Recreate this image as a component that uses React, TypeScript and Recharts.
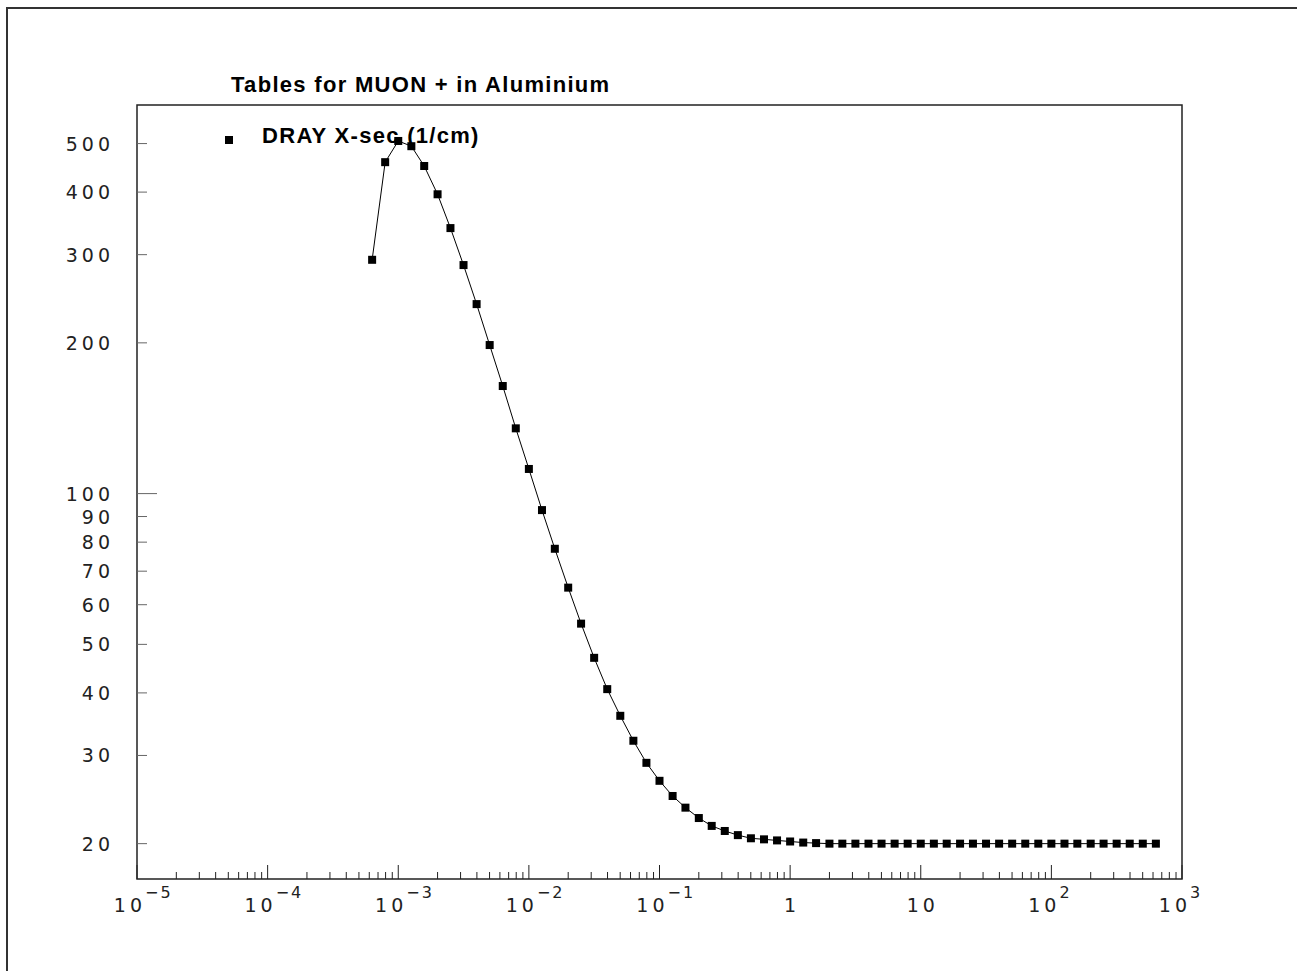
import { LineChart, Line, XAxis, YAxis, ReferenceArea } from 'recharts';

// kinetic energy (GeV), tabulated every 0.1 decade
const energies = [
  6.31e-4, 7.94e-4, 1.0e-3, 1.26e-3, 1.58e-3, 2.0e-3, 2.51e-3, 3.16e-3, 3.98e-3, 5.01e-3,
  6.31e-3, 7.94e-3, 1.0e-2, 1.26e-2, 1.58e-2, 2.0e-2, 2.51e-2, 3.16e-2, 3.98e-2, 5.01e-2,
  6.31e-2, 7.94e-2, 0.1, 0.126, 0.158, 0.2, 0.251, 0.316, 0.398, 0.501,
  0.631, 0.794, 1.0, 1.26, 1.58, 2.0, 2.51, 3.16, 3.98, 5.01,
  6.31, 7.94, 10, 12.6, 15.8, 20, 25.1, 31.6, 39.8, 50.1,
  63.1, 79.4, 100, 126, 158, 200, 251, 316, 398, 501, 631,
];

// DRAY cross section (1/cm)
const xsec = [
  293, 459, 506, 494, 451, 396, 339, 286, 239, 198,
  164, 135, 112, 92.7, 77.6, 64.9, 55.0, 47.0, 40.7, 36.0,
  32.1, 29.0, 26.7, 24.9, 23.6, 22.5, 21.7, 21.2, 20.8, 20.5,
  20.4, 20.3, 20.2, 20.1, 20.05, 20.0, 20.0, 20.0, 20.0, 20.0,
  20.0, 20.0, 20.0, 20.0, 20.0, 20.0, 20.0, 20.0, 20.0, 20.0,
  20.0, 20.0, 20.0, 20.0, 20.0, 20.0, 20.0, 20.0, 20.0, 20.0, 20.0,
];

const decades = [-5, -4, -3, -2, -1, 0, 1, 2, 3];
const minorMult = [2, 3, 4, 5, 6, 7, 8, 9];
const yTicks = [20, 30, 40, 50, 60, 70, 80, 90, 100, 200, 300, 400, 500];

const xTicks: number[] = [];
decades.forEach((d) => {
  xTicks.push(Math.pow(10, d));
  if (d < 3) minorMult.forEach((m) => xTicks.push(m * Math.pow(10, d)));
});

const data = energies.map((e, i) => ({ e, v: xsec[i] }));

const X_MIN = 1e-5;
const X_MAX = 1e3;
const Y_MIN = 17;
const Y_MAX = 597;

const LABEL_FONT = '"DejaVu Sans", sans-serif';
const TITLE_FONT = '"Liberation Sans", Arial, sans-serif';

function XTick(props: any) {
  const { x, y, payload } = props;
  const v = payload.value;
  const exp = Math.round(Math.log10(v));
  const isMajor = Math.abs(v - Math.pow(10, exp)) < 1e-9 * Math.pow(10, exp);
  const len = isMajor ? 14 : 7;
  let label = null;
  if (isMajor) {
    if (exp === 0 || exp === 1) {
      label = (
        <text x={x + 2} y={y + 33} textAnchor="middle" fontFamily={LABEL_FONT} fontSize={19} letterSpacing={4} fill="#222">
          {exp === 0 ? '1' : '10'}
        </text>
      );
    } else {
      label = (
        <g fontFamily={LABEL_FONT} fill="#222">
          <text x={x + 9} y={y + 33} textAnchor="end" fontSize={19} letterSpacing={4}>10</text>
          <text x={x + 8} y={y + 19} textAnchor="start" fontSize={16} letterSpacing={2}>
            {exp < 0 ? '\u2212' + Math.abs(exp) : String(exp)}
          </text>
        </g>
      );
    }
  }
  return (
    <g>
      <line x1={x} y1={y} x2={x} y2={y - len} stroke="#222" strokeWidth={1} />
      {label}
    </g>
  );
}

function YTick(props: any) {
  const { x, y, payload } = props;
  const len = payload.value === 100 ? 20 : 10;
  return (
    <g>
      <line x1={x} y1={y} x2={x + len} y2={y} stroke="#666" strokeWidth={1} />
      <text x={x - 23} y={y + 7} textAnchor="end" fontFamily={LABEL_FONT} fontSize={19} letterSpacing={4} fill="#222">
        {payload.value}
      </text>
    </g>
  );
}

function SquareDot(props: any) {
  const { cx, cy } = props;
  if (cx == null || cy == null) return null;
  return <rect x={cx - 4} y={cy - 4} width={8} height={8} fill="#000" />;
}

export default function App() {
  return (
    <div style={{ position: 'absolute', left: 0, top: 0, width: 1297, height: 971, background: '#fff', overflow: 'hidden' }}>
      <svg width={1297} height={971} style={{ position: 'absolute', left: 0, top: 0 }}>
        <rect x={7} y={8} width={1400} height={1100} fill="none" stroke="#333" strokeWidth={2} />
        <text x={231} y={92} fontFamily={TITLE_FONT} fontWeight="bold" fontSize={22} letterSpacing={1.3}>
          Tables for MUON + in Aluminium
        </text>
        <rect x={225} y={136} width={8} height={8} fill="#000" />
        <text x={262} y={143} fontFamily={TITLE_FONT} fontWeight="bold" fontSize={22} letterSpacing={1.3}>
          DRAY X-sec (1/cm)
        </text>
      </svg>
      <div style={{ position: 'absolute', left: 0, top: 0 }}>
        <LineChart width={1297} height={971} data={data} margin={{ top: 105, right: 115, bottom: 52, left: 37 }}>
          <XAxis
            dataKey="e"
            type="number"
            scale="log"
            domain={[X_MIN, X_MAX]}
            allowDataOverflow
            ticks={xTicks}
            interval={0}
            tickSize={0}
            tickMargin={0}
            tickLine={false}
            axisLine={false}
            height={40}
            tick={<XTick />}
          />
          <YAxis
            type="number"
            scale="log"
            domain={[Y_MIN, Y_MAX]}
            allowDataOverflow
            ticks={yTicks}
            interval={0}
            tickSize={0}
            tickMargin={0}
            tickLine={false}
            axisLine={false}
            width={100}
            tick={<YTick />}
          />
          <ReferenceArea x1={X_MIN} x2={X_MAX} y1={Y_MIN} y2={Y_MAX} fill="none" stroke="#222" strokeWidth={1.5} />
          <Line
            type="linear"
            dataKey="v"
            stroke="#000"
            strokeWidth={1}
            dot={<SquareDot />}
            activeDot={false}
            isAnimationActive={false}
          />
        </LineChart>
      </div>
    </div>
  );
}
